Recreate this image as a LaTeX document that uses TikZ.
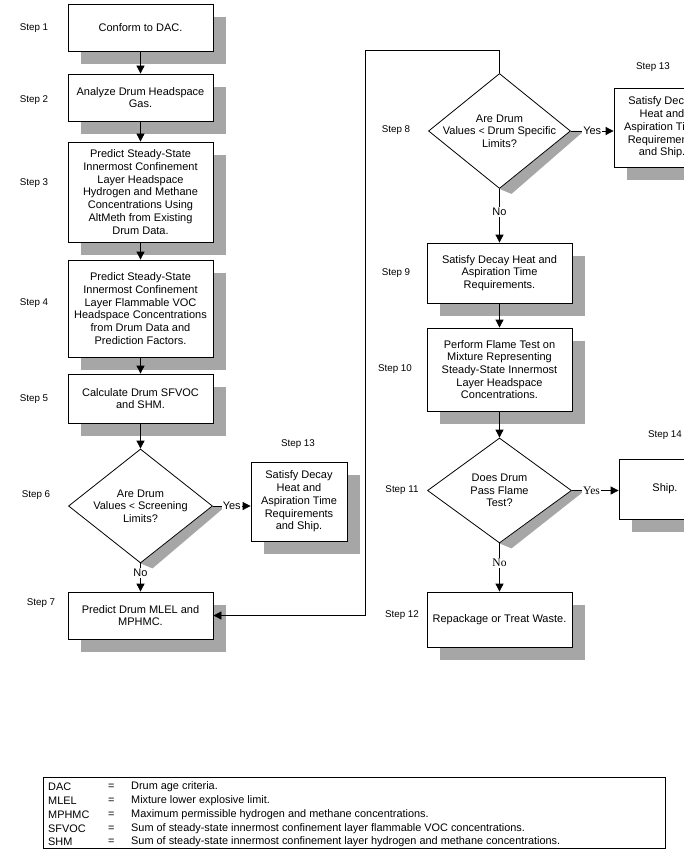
\documentclass[tikz,border=0pt]{standalone}
\usepackage{fontspec}
\setmainfont{Liberation Sans}
\newfontfamily\seriffont{Liberation Serif}
\usetikzlibrary{shapes.geometric,arrows.meta,calc,backgrounds}
\begin{document}
\begin{tikzpicture}[x=1pt,y=-1pt,
 every node/.style={font=\fontsize{11}{12.7}\selectfont},
 box/.style={draw, fill=white, line width=0.8pt, minimum width=145pt, align=center, inner sep=2pt},
 diam/.style={draw, fill=white, diamond, line width=0.8pt, minimum width=144pt, minimum height=114pt, inner sep=0pt},
 steplbl/.style={font=\fontsize{9.8}{11}\selectfont},
 arr/.style={line width=0.8pt, -{Triangle[width=8pt,length=8pt]}},
 ln/.style={line width=0.8pt},
 lbl/.style={fill=white, inner sep=1pt},
 slbl/.style={fill=white, inner sep=1pt, font=\seriffont\fontsize{11.5}{13}\selectfont},
 shade/.style={fill=black!35},
 legtxt/.style={anchor=west, inner sep=0pt, font=\fontsize{10.9}{12}\selectfont}]
\useasboundingbox (0,0) rectangle (683,861);

% left column
\node[box, minimum height=47pt] (s1) at (140.5,27.5) {Conform to DAC.};
\node[box, minimum height=47pt] (s2) at (140.5,97.5) {Analyze Drum Headspace\\Gas.};
\node[box, minimum height=100pt] (s3) at (140.5,192) {Predict Steady-State\\Innermost Confinement\\Layer Headspace\\Hydrogen and Methane\\Concentrations Using\\AltMeth from Existing\\Drum Data.};
\node[box, minimum height=97pt] (s4) at (140.5,308.5) {Predict Steady-State\\Innermost Confinement\\Layer Flammable VOC\\Headspace Concentrations\\from Drum Data and\\Prediction Factors.};
\node[box, minimum height=49pt] (s5) at (140.5,398.5) {Calculate Drum SFVOC\\and SHM.};
\node[diam] (d6) at (140.5,506) {};
\node[align=center] (d6t) at (d6.center) {Are Drum\\Values {\fontsize{10}{12}\selectfont<} Screening\\Limits?};
\node[box, minimum height=47pt] (s7) at (140.5,615.5) {Predict Drum MLEL and\\MPHMC.};
\node[box, minimum width=96pt, minimum height=79pt] (s13a) at (299,501.5) {Satisfy Decay\\Heat and\\Aspiration Time\\Requirements\\and Ship.};

% right column
\node[diam, minimum width=142pt, minimum height=115pt] (d8) at (499.5,131) {};
\node[align=center] (d8t) at (d8.center) {Are Drum\\Values {\fontsize{10}{12}\selectfont<} Drum Specific\\Limits?};
\node[box, minimum width=96pt, minimum height=79pt] (s13b) at (662,127.5) {Satisfy Decay\\Heat and\\Aspiration Time\\Requirements\\and Ship.};
\node[box, minimum height=60pt] (s9) at (499.5,273) {Satisfy Decay Heat and\\Aspiration Time\\Requirements.};
\node[box, minimum height=83pt] (s10) at (499.5,369.5) {Perform Flame Test on\\Mixture Representing\\Steady-State Innermost\\Layer Headspace\\Concentrations.};
\node[diam, minimum height=105pt] (d11) at (499.5,490.5) {};
\node[align=center] (d11t) at (d11.center) {Does Drum\\Pass Flame\\Test?};
\node[box, minimum width=92pt, minimum height=60pt] (s14) at (665,489) {Ship.};
\node[box, minimum height=55pt] (s12) at (499.5,619.5) {Repackage or Treat Waste.};

% shadows
\begin{scope}[on background layer]
\foreach \n in {s1,s2,s3,s4,s5,s7,s13a,s13b,s9,s10,s14,s12}{
  \fill[shade] ([shift={(13,13)}]\n.north west) rectangle ([shift={(13,13)}]\n.south east);
}
\foreach \n in {d6,d8,d11}{
  \fill[shade] (\n.east) -- ++(13,0) -- ($(\n.south)+(12,5)$) -- (\n.south) -- cycle;
}
\end{scope}

% step labels
\node[steplbl] (l1) at (34,28) {Step 1};
\node[steplbl] (l2) at (34,100) {Step 2};
\node[steplbl] (l3) at (34,183) {Step 3};
\node[steplbl] (l4) at (34,303) {Step 4};
\node[steplbl] (l5) at (34,399) {Step 5};
\node[steplbl] (l6) at (36,495) {Step 6};
\node[steplbl] (l7) at (41,603) {Step 7};
\node[steplbl] (l13a) at (298,444) {Step 13};
\node[steplbl] (l8) at (396,130) {Step 8};
\node[steplbl] (l13b) at (653,67) {Step 13};
\node[steplbl] (l9) at (396,273) {Step 9};
\node[steplbl] (l10) at (395,369) {Step 10};
\node[steplbl] (l11) at (402,490) {Step 11};
\node[steplbl] (l14) at (665,435) {Step 14};
\node[steplbl] (l12) at (402,615) {Step 12};

% connectors
\draw[arr] (s1) -- (s2);
\draw[arr] (s2) -- (s3);
\draw[arr] (s3) -- (s4);
\draw[arr] (s4) -- (s5);
\draw[arr] (s5) -- (d6.north);
\draw[arr] (d6.south) -- node[lbl, pos=0.33] {No} (s7.north);
\draw[arr] (d6.east) -- node[lbl, pos=0.5] {Yes} (d6.east -| s13a.west);
\coordinate (c1) at (365,615.5);
\coordinate (c2) at (365,50);
\draw[ln] (d8.north) |- (c2) -- (c1);
\draw[arr] (c1) -- (s7.east);
\draw[arr] (d8.east) -- node[lbl, pos=0.5] {Yes} (d8.east -| s13b.west);
\draw[arr] (d8.south) -- node[lbl, pos=0.43] {No} (s9.north);
\draw[arr] (s9) -- (s10);
\draw[arr] (s10) -- (d11.north);
\draw[arr] (d11.east) -- node[slbl, pos=0.42] {Yes} (d11.east -| s14.west);
\draw[arr] (d11.south) -- node[slbl, pos=0.4] {No} (s12.north);

% legend
\node[draw, ln, minimum width=622pt, minimum height=71pt, inner sep=0pt] (leg) at (354,812.5) {};
\foreach \y/\a/\d in {787/DAC/Drum age criteria.,
  801/MLEL/Mixture lower explosive limit.,
  815/MPHMC/Maximum permissible hydrogen and methane concentrations.,
  829/SFVOC/Sum of steady-state innermost confinement layer flammable VOC concentrations.,
  842/SHM/Sum of steady-state innermost confinement layer hydrogen and methane concentrations.}{
  \node[legtxt] at (48,\y) {\a};
  \node[legtxt] at (108,\y) {=};
  \node[legtxt] at (131,\y) {\d};
}
\end{tikzpicture}
\end{document}
